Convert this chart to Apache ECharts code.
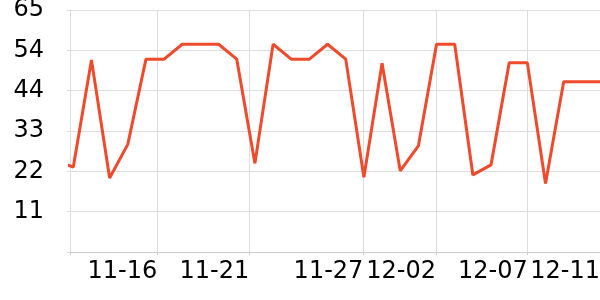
<!DOCTYPE html>
<html><head><meta charset="utf-8">
<script src="https://cdn.jsdelivr.net/npm/echarts@6/dist/echarts.min.js"></script>
<style>html,body{margin:0;padding:0;background:#fff}#c{width:600px;height:300px}</style>
</head><body><div id="c"></div>
<script>
// point positions (uniform sampling index) and values
const pointIndex = [0,1,2,3,4,5,6,7,8,9,10,11,12,13,14,15,16,17,18,19,20,21,22,23,24,25,26,27,28,29,30];
const values = [24.7, 22.8, 51.6, 19.9, 28.9, 51.8, 51.8, 55.8, 55.8, 55.8, 51.8, 23.8, 55.8, 51.8, 51.8, 55.8, 51.8, 20.1, 50.7, 21.8, 28.5, 55.8, 55.8, 20.7, 23.4, 50.8, 50.8, 18.4, 45.7, 45.7, 45.7];
// x-axis tick positions (same index units) and their labels
const xTickValues = [0.818, 5.625, 10.69, 16.97, 20.97, 26.02, 30];
const xTickLabels = ['', '11-16', '11-21', '11-27', '12-02', '12-07', '12-11'];
// y-axis ticks
const yMax = 65;
const ySplits = 6;
const yTickLabels = ['', '11', '22', '33', '44', '54', '65'];

const seriesData = pointIndex.map((x, i) => [x, values[i]]);
const font = 'DejaVu Sans';

const chart = echarts.init(document.getElementById('c'), null, {renderer: 'canvas'});
chart.setOption({
  animation: false,
  backgroundColor: '#fff',
  grid: {left: 70, right: 0, top: 10, bottom: 48, containLabel: false, outerBoundsMode: 'none'},
  xAxis: {
    type: 'value',
    min: xTickValues[0],
    max: xTickValues[xTickValues.length - 1],
    axisLine: {show: true, lineStyle: {color: '#ccc', width: 1}},
    axisTick: {show: true, length: 3, customValues: xTickValues, lineStyle: {color: '#ccc'}},
    splitLine: {show: true, lineStyle: {color: '#ddd', width: 1}},
    axisLabel: {
      customValues: xTickValues.slice(1),
      align: 'right',
      margin: 8,
      fontSize: 24,
      fontFamily: font,
      color: '#000',
      formatter: function (v) {
        let best = 0;
        xTickValues.forEach((t, i) => { if (Math.abs(t - v) < Math.abs(xTickValues[best] - v)) best = i; });
        return xTickLabels[best];
      }
    }
  },
  yAxis: {
    type: 'value',
    min: 0,
    max: yMax,
    interval: yMax / ySplits,
    axisLine: {show: true, lineStyle: {color: '#ddd', width: 1}},
    axisTick: {show: true, length: 3, lineStyle: {color: '#ddd'}},
    splitLine: {show: true, lineStyle: {color: '#ddd', width: 1}},
    axisLabel: {
      margin: 26,
      fontSize: 24,
      fontFamily: font,
      color: '#000',
      formatter: function (v) {
        return yTickLabels[Math.round(v / (yMax / ySplits))];
      }
    }
  },
  series: [{
    type: 'line',
    data: seriesData,
    symbol: 'none',
    clip: true,
    lineStyle: {color: '#ef4a2b', width: 3}
  }]
});
</script></body></html>
